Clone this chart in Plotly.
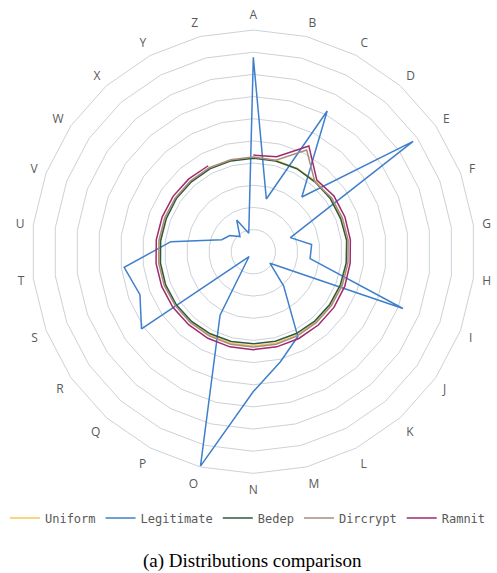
import plotly.graph_objects as go

categories = list("ABCDEFGHIJKLMNOPQRSTUVWXYZ")

uniform = [4.25] * 26
legitimate = [8.77, 2.45, 7.17, 3.30, 8.76, 1.79, 2.65, 2.58, 7.22, 0.91, 2.06, 4.32, 5.11,
              6.31, 9.96, 3.23, 0.29, 6.13, 5.47, 5.87, 3.75, 1.52, 1.29, 0.91, 1.61, 0.86]
bedep = [4.22, 4.21, 4.23, 4.2, 4.22, 4.21, 4.24, 4.22, 4.2, 4.19, 4.18, 4.17, 4.16,
         4.15, 4.17, 4.18, 4.2, 4.22, 4.23, 4.22, 4.21, 4.2, 4.22, 4.21, 4.22, 4.22]
dircrypt = [4.27, 4.25, 5.18, 4.19, 4.29, 4.3, 4.31, 4.3, 4.29, 4.28, 4.28, 4.29, 4.3,
            4.3, 4.3, 4.29, 4.28, 4.28, 4.3, 4.3, 4.29, 4.28, 4.28, 4.27, 4.28, 4.27]
ramnit = [4.36, 4.41, 5.39, 4.32, 4.42, 4.42, 4.41, 4.4, 4.41, 4.42, 4.42, 4.42, 4.42,
          4.42, 4.42, 4.41, 4.4, 4.41, 4.42, 4.42, 4.41, 4.4, 4.4, 4.39, 4.38, None]

series = [
    ("Uniform", uniform, "#F7C65A"),
    ("Legitimate", legitimate, "#3F7FCB"),
    ("Bedep", bedep, "#2E5B3E"),
    ("Dircrypt", dircrypt, "#A58E80"),
    ("Ramnit", ramnit, "#A02A6E"),
]

fig = go.Figure()
for name, vals, color in series:
    fig.add_trace(go.Scatterpolar(
        r=vals + [vals[0]],
        theta=categories + [categories[0]],
        mode="lines",
        name=name,
        connectgaps=False,
        line=dict(color=color, width=1.5),
    ))

grid = "#CAD2D9"
fig.update_layout(
    width=497, height=573,
    margin=dict(l=0, r=0, t=0, b=0),
    paper_bgcolor="white",
    plot_bgcolor="white",
    polar=dict(
        domain=dict(x=[0.0637, 0.9557], y=[0.1738, 0.9476]),
        gridshape="linear",
        bgcolor="white",
        radialaxis=dict(range=[0, 10], dtick=1, showticklabels=False, ticks="",
                        showline=False, gridcolor=grid, gridwidth=1),
        angularaxis=dict(direction="clockwise", rotation=90, showgrid=False,
                         showline=True, linecolor=grid, linewidth=1,
                         ticks="outside", ticklen=6, tickcolor="rgba(0,0,0,0)",
                         tickfont=dict(family="Open Sans", size=12, color="#595959")),
    ),
    legend=dict(orientation="h", x=0.01, xanchor="left", y=0.096, yanchor="middle",
                itemwidth=30,
                font=dict(family="DejaVu Sans Mono", size=12, color="#595959"),
                bgcolor="rgba(0,0,0,0)"),
    showlegend=True,
    annotations=[dict(text="(a) Distributions comparison", x=0.509, y=0.021,
                      xref="paper", yref="paper", showarrow=False,
                      xanchor="center", yanchor="middle",
                      font=dict(family="Liberation Serif", size=19, color="black"))],
)

fig.write_html("out.html", config={"displayModeBar": False},
               post_script="document.body.style.margin='0px';")
